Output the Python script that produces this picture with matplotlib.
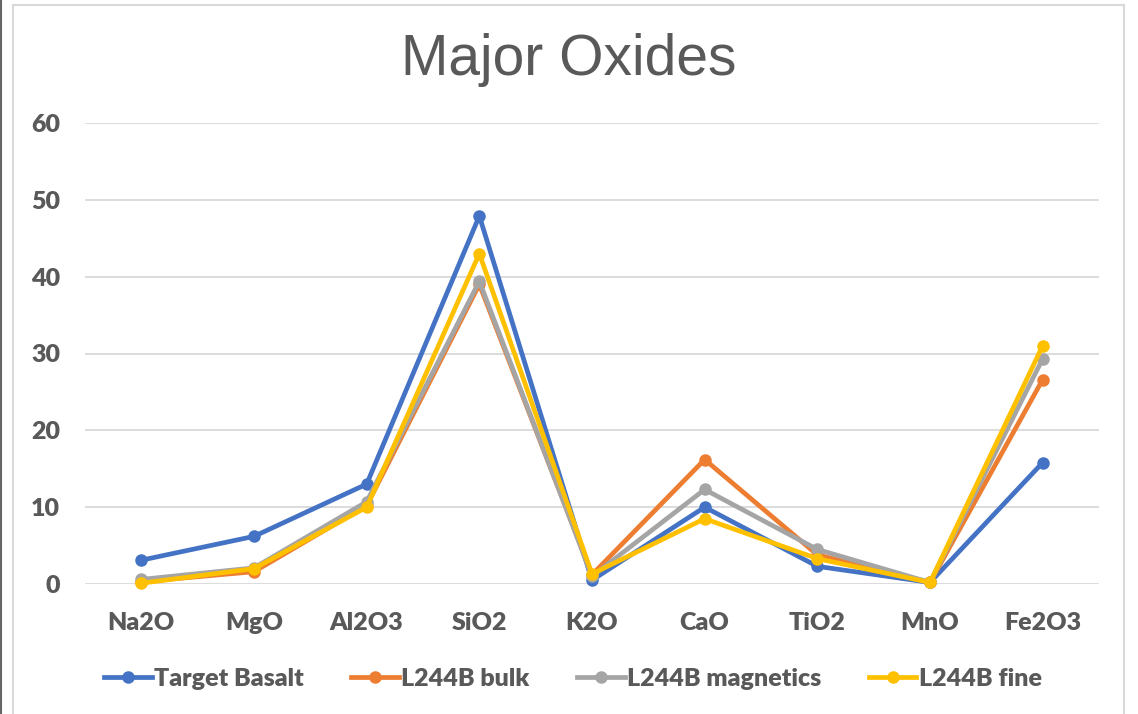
import matplotlib.pyplot as plt
from matplotlib.lines import Line2D
from matplotlib.patches import Rectangle

oxides = ["Na2O", "MgO", "Al2O3", "SiO2", "K2O", "CaO", "TiO2", "MnO", "Fe2O3"]
target_basalt = [3.1, 6.2, 13.0, 47.9, 0.5, 10.0, 2.3, 0.2, 15.8]
bulk = [0.3, 1.6, 10.2, 39.0, 1.2, 16.2, 3.8, 0.2, 26.6]
magnetics = [0.6, 2.1, 10.7, 39.4, 1.0, 12.3, 4.5, 0.2, 29.3]
fine = [0.1, 2.0, 10.0, 43.0, 1.3, 8.5, 3.3, 0.2, 31.0]

series = [
    ("Target Basalt", target_basalt, "#4472C4"),
    ("L244B bulk", bulk, "#ED7D31"),
    ("L244B magnetics", magnetics, "#A5A5A5"),
    ("L244B fine", fine, "#FFC000"),
]

txt = "#595959"
plt.rcParams['font.family'] = ['Lato', 'DejaVu Sans']

fig = plt.figure(figsize=(11.38, 7.14), dpi=100)
ax = fig.add_axes([85 / 1138, 1 - 584 / 714, 1014 / 1138, 461 / 714])

x = range(len(oxides))
for name, vals, col in series:
    ax.plot(x, vals, color=col, lw=3.4, marker="o", ms=8, label=name,
            solid_joinstyle="round", clip_on=False)

ax.set_xlim(-0.5, len(oxides) - 0.5)
ax.set_ylim(0, 60)
ax.set_yticks(range(0, 61, 10))
ax.set_xticks(list(x))
ax.set_xticklabels(oxides)
ax.grid(axis="y", color="#D9D9D9", lw=1.3)
ax.set_axisbelow(True)
for s in ax.spines.values():
    s.set_visible(False)
ax.tick_params(length=0, labelsize=18, labelcolor=txt)
ax.tick_params(axis="x", pad=20)
ax.tick_params(axis="y", pad=18)
for lab in ax.get_xticklabels() + ax.get_yticklabels():
    lab.set_fontweight("heavy")

fig.text(569 / 1138, 1 - 60 / 714, "Major Oxides", ha="center", va="center",
         fontsize=41, color=txt, family="Liberation Sans")

leg = fig.legend(loc="center", bbox_to_anchor=(573 / 1138, 1 - 679 / 714),
                 ncol=4, frameon=False, handlelength=1.9, handletextpad=0.1,
                 columnspacing=1.9, prop={"size": 18, "weight": "heavy"})
for t in leg.get_texts():
    t.set_color(txt)

# chart frame and left edge line
fig.add_artist(Rectangle((13 / 1138, -0.01), 1111 / 1138, 1 - 5 / 714 + 0.01,
                         transform=fig.transFigure, fill=False,
                         edgecolor="#D9D9D9", lw=1.5))
fig.add_artist(Line2D([0.0008, 0.0008], [0, 1], transform=fig.transFigure,
                      color="#666666", lw=1.5))

fig.savefig("out.png", dpi=100)
